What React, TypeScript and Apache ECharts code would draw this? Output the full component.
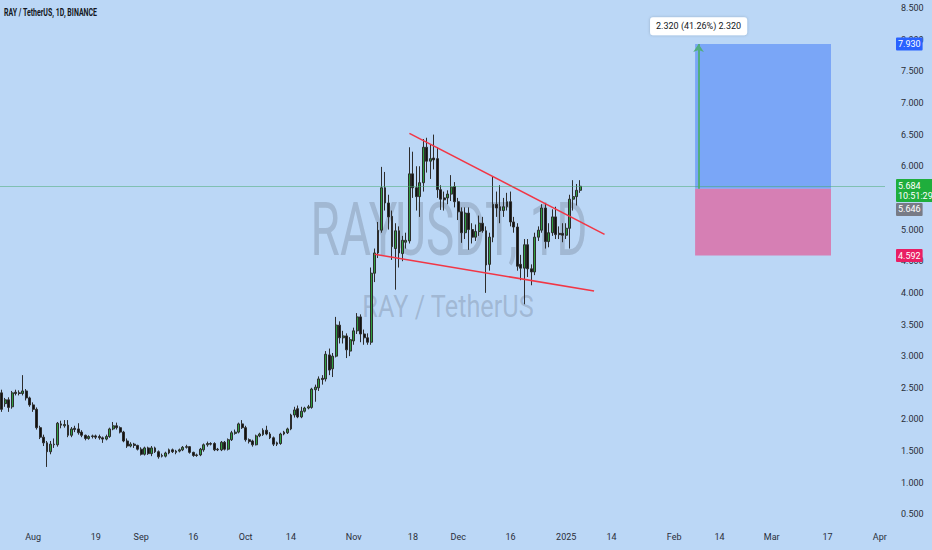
import React, { useEffect, useRef } from 'react';
import * as echarts from 'echarts';

const startDate = '2024-07-23';
const endDate = '2025-04-02';

// [open, close, low, high]
const candles: number[][] = [
  [2.42, 2.16, 2.12, 2.47], [2.25, 2.31, 2.20, 2.34], [2.31, 2.19, 2.12, 2.35], [2.20, 2.42, 2.17, 2.45],
  [2.43, 2.41, 2.38, 2.47], [2.42, 2.41, 2.38, 2.46], [2.41, 2.45, 2.38, 2.70], [2.45, 2.34, 2.30, 2.48],
  [2.34, 2.23, 2.20, 2.36], [2.23, 2.16, 2.12, 2.27], [2.16, 1.87, 1.84, 2.19], [1.87, 1.72, 1.69, 1.90],
  [1.72, 1.63, 1.58, 1.76], [1.63, 1.49, 1.25, 1.66], [1.49, 1.61, 1.45, 1.66], [1.60, 1.61, 1.55, 1.70],
  [1.60, 1.94, 1.57, 1.96], [1.93, 1.91, 1.86, 1.98], [1.90, 1.92, 1.87, 1.99], [1.91, 1.75, 1.72, 1.99],
  [1.75, 1.85, 1.72, 1.88], [1.86, 1.84, 1.80, 1.90], [1.85, 1.79, 1.76, 1.94], [1.80, 1.75, 1.72, 1.83],
  [1.75, 1.70, 1.67, 1.76], [1.70, 1.73, 1.68, 1.75], [1.73, 1.74, 1.70, 1.76], [1.74, 1.72, 1.69, 1.76],
  [1.73, 1.71, 1.68, 1.76], [1.71, 1.69, 1.63, 1.73], [1.69, 1.73, 1.67, 1.76], [1.73, 1.85, 1.71, 1.87],
  [1.85, 1.90, 1.83, 1.96], [1.90, 1.87, 1.84, 1.95], [1.87, 1.80, 1.78, 1.89], [1.80, 1.66, 1.64, 1.82],
  [1.66, 1.58, 1.55, 1.70], [1.58, 1.61, 1.56, 1.64], [1.61, 1.59, 1.55, 1.63], [1.59, 1.53, 1.51, 1.60],
  [1.53, 1.45, 1.43, 1.56], [1.45, 1.55, 1.43, 1.57], [1.55, 1.46, 1.44, 1.57], [1.46, 1.55, 1.42, 1.58],
  [1.55, 1.49, 1.47, 1.57], [1.49, 1.41, 1.38, 1.51], [1.43, 1.42, 1.40, 1.46], [1.42, 1.47, 1.40, 1.49],
  [1.47, 1.52, 1.45, 1.54], [1.52, 1.49, 1.47, 1.54], [1.48, 1.50, 1.45, 1.52], [1.50, 1.52, 1.48, 1.54],
  [1.52, 1.56, 1.50, 1.58], [1.56, 1.57, 1.54, 1.60], [1.57, 1.48, 1.46, 1.58], [1.48, 1.43, 1.41, 1.49],
  [1.44, 1.43, 1.41, 1.46], [1.44, 1.53, 1.42, 1.55], [1.52, 1.60, 1.49, 1.62], [1.60, 1.62, 1.57, 1.65],
  [1.62, 1.61, 1.59, 1.64], [1.62, 1.52, 1.50, 1.64], [1.53, 1.52, 1.50, 1.55], [1.52, 1.64, 1.50, 1.66],
  [1.64, 1.53, 1.51, 1.66], [1.53, 1.68, 1.51, 1.70], [1.68, 1.79, 1.66, 1.82], [1.78, 1.80, 1.76, 1.84],
  [1.80, 1.93, 1.78, 1.95], [1.93, 1.87, 1.85, 1.99], [1.87, 1.68, 1.65, 1.90], [1.68, 1.65, 1.62, 1.70],
  [1.66, 1.60, 1.57, 1.68], [1.60, 1.74, 1.59, 1.76], [1.74, 1.77, 1.72, 1.79], [1.76, 1.83, 1.74, 1.86],
  [1.83, 1.77, 1.75, 1.90], [1.77, 1.71, 1.69, 1.80], [1.71, 1.61, 1.58, 1.73], [1.63, 1.61, 1.58, 1.65],
  [1.62, 1.77, 1.60, 1.79], [1.77, 1.80, 1.75, 1.82], [1.79, 1.85, 1.77, 1.87], [1.85, 2.07, 1.83, 2.09],
  [2.07, 2.15, 2.03, 2.20], [2.17, 2.04, 2.02, 2.22], [2.04, 2.13, 2.02, 2.20], [2.13, 2.18, 2.11, 2.20],
  [2.18, 2.20, 2.16, 2.23], [2.19, 2.48, 2.17, 2.50], [2.47, 2.51, 2.28, 2.55], [2.50, 2.64, 2.45, 2.68],
  [2.65, 2.63, 2.55, 2.70], [2.64, 3.03, 2.60, 3.08], [3.02, 2.78, 2.70, 3.12], [2.80, 3.00, 2.67, 3.05],
  [3.00, 3.49, 2.98, 3.62], [3.49, 3.29, 3.20, 3.55], [3.29, 3.32, 3.20, 3.40], [3.32, 3.10, 2.97, 3.36],
  [3.08, 3.26, 3.00, 3.30], [3.24, 3.40, 3.18, 3.45], [3.40, 3.62, 3.35, 3.68], [3.62, 3.35, 3.22, 3.66],
  [3.35, 3.29, 3.18, 3.42], [3.29, 3.22, 3.18, 3.36], [3.22, 4.31, 3.18, 4.40], [4.31, 4.63, 4.17, 4.70],
  [4.63, 4.99, 4.55, 5.12], [4.99, 5.66, 4.95, 5.99], [5.66, 5.42, 5.30, 5.91], [5.42, 5.20, 5.00, 5.55],
  [5.21, 4.73, 4.52, 5.30], [4.70, 4.98, 4.05, 5.10], [4.98, 4.63, 4.40, 5.05], [4.62, 4.83, 4.50, 4.90],
  [4.80, 4.83, 4.70, 4.95], [4.82, 5.88, 4.78, 6.30], [5.88, 5.66, 5.50, 6.23], [5.66, 5.52, 5.30, 6.00],
  [5.52, 5.74, 5.20, 6.00], [5.74, 6.30, 5.60, 6.43], [6.30, 6.08, 5.90, 6.45], [6.08, 6.12, 5.80, 6.35],
  [6.13, 6.10, 5.95, 6.50], [6.12, 5.63, 5.50, 6.30], [5.63, 5.48, 5.31, 5.70], [5.50, 5.47, 5.30, 5.60],
  [5.50, 5.56, 5.40, 5.62], [5.56, 5.67, 5.45, 5.86], [5.68, 5.44, 5.35, 5.75], [5.44, 5.28, 5.15, 5.50],
  [5.28, 4.95, 4.79, 5.35], [4.95, 5.26, 4.85, 5.35], [5.26, 5.00, 4.68, 5.35], [5.00, 4.88, 4.78, 5.10],
  [4.88, 4.97, 4.82, 5.08], [4.97, 5.10, 4.90, 5.22], [5.10, 4.98, 4.95, 5.20], [4.98, 4.44, 4.00, 5.05],
  [4.45, 4.88, 4.35, 4.95], [4.88, 5.40, 4.80, 5.83], [5.40, 5.34, 5.20, 5.60], [5.36, 5.30, 5.10, 5.70],
  [5.30, 5.36, 5.20, 5.50], [5.36, 5.44, 5.30, 5.58], [5.44, 5.12, 5.05, 5.60], [5.12, 5.04, 4.95, 5.20],
  [5.04, 4.42, 4.35, 5.10], [4.45, 4.39, 4.20, 4.60], [4.39, 4.76, 3.82, 4.85], [4.76, 4.38, 4.25, 4.85],
  [4.38, 4.33, 4.12, 4.45], [4.33, 4.88, 4.28, 4.95], [4.88, 4.99, 4.82, 5.05], [4.99, 5.34, 4.95, 5.40],
  [5.34, 4.81, 4.70, 5.42], [4.81, 4.95, 4.72, 5.10], [4.95, 5.20, 4.90, 5.32], [5.20, 4.92, 4.85, 5.36],
  [4.94, 4.92, 4.85, 5.05], [4.94, 4.91, 4.80, 5.10], [4.91, 5.02, 4.85, 5.10], [5.02, 5.48, 4.70, 5.55],
  [5.48, 5.52, 5.30, 5.78], [5.52, 5.62, 5.38, 5.72], [5.62, 5.684, 5.58, 5.78],
];

const tickDates = ['2024-08-01', '2024-08-19', '2024-09-01', '2024-09-16', '2024-10-01', '2024-10-14',
  '2024-11-01', '2024-11-18', '2024-12-01', '2024-12-16', '2025-01-01', '2025-01-14', '2025-02-01',
  '2025-02-14', '2025-03-01', '2025-03-17', '2025-04-01'];
const tickLabels = ['Aug', '19', 'Sep', '16', 'Oct', '14', 'Nov', '18', 'Dec', '16', '2025', '14', 'Feb',
  '14', 'Mar', '17', 'Apr'];

const priceMin = 0.5;
const priceMax = 8.5;
const priceStep = 0.5;

const lastPrice = 5.684;
const lastTime = '10:51:29';
const entryPrice = 5.646;
const targetPrice = 7.93;
const stopPrice = 4.592;

const upperTrend: [string, number][] = [['2024-11-17', 6.52], ['2025-01-12', 4.925]];
const lowerTrend: [string, number][] = [['2024-11-07', 4.61], ['2025-01-09', 4.028]];
const positionDates = ['2025-02-07', '2025-03-18'];
const arrowDate = '2025-02-08';
const infoLabelPrice = 8.21;
const infoText = '2.320 (41.26%) 2.320';

function buildDates(a: string, b: string): string[] {
  const out: string[] = [];
  const d = new Date(a + 'T00:00:00Z');
  const end = new Date(b + 'T00:00:00Z');
  while (d.getTime() <= end.getTime()) {
    out.push(d.toISOString().slice(0, 10));
    d.setUTCDate(d.getUTCDate() + 1);
  }
  return out;
}

const FONT = "'Liberation Sans Narrow', Roboto, sans-serif";

export default function App() {
  const ref = useRef<HTMLDivElement>(null);
  useEffect(() => {
    if (!ref.current) return;
    const chart = echarts.init(ref.current, null, { renderer: 'svg' });
    const dates = buildDates(startDate, endDate);
    const labelMap: Record<string, string> = {};
    tickDates.forEach((d, i) => { labelMap[d] = tickLabels[i]; });

    const tag = (bg: string) => ({
      show: true,
      position: 'end',
      distance: 11,
      color: '#ffffff',
      fontSize: 9,
      fontFamily: FONT,
      backgroundColor: bg,
      padding: [2, 2, 1, 2],
      borderRadius: 1,
      lineHeight: 10,
    });
    const hidden = { color: 'transparent', width: 0 };
    const red = { color: '#f23645', width: 1.5, type: 'solid' };

    chart.setOption({
      animation: false,
      backgroundColor: '#bbd7f6',
      grid: { left: 0, right: 47, top: 8, bottom: 35.6 },
      xAxis: {
        type: 'category',
        data: dates,
        boundaryGap: true,
        axisLine: { show: false },
        axisTick: { show: false },
        splitLine: { show: false },
        axisLabel: {
          interval: (_i: number, v: string) => v in labelMap,
          formatter: (v: string) => labelMap[v] || '',
          color: '#2a2e39',
          fontSize: 9,
          margin: 18,
          fontFamily: FONT,
        },
      },
      yAxis: {
        type: 'value',
        position: 'right',
        min: priceMin,
        max: priceMax,
        interval: priceStep,
        axisLine: { show: false },
        axisTick: { show: false },
        splitLine: { show: false },
        axisLabel: {
          formatter: (v: number) => v.toFixed(3),
          color: '#2a2e39',
          fontSize: 9,
          margin: 16,
          fontFamily: FONT,
        },
      },
      graphic: [
        {
          type: 'text', x: 4, y: 8, scaleX: 0.7, z: 10,
          style: { text: 'RAY / TetherUS, 1D, BINANCE', fill: '#131722', fontSize: 10, fontWeight: 'bold', fontFamily: 'Roboto', textVerticalAlign: 'top' },
        },
        {
          type: 'text', x: 449, y: 229, scaleX: 0.635, z: 0,
          style: { text: 'RAYUSDT, 1D', fill: 'rgba(105,118,138,0.32)', fontSize: 75, fontFamily: 'Roboto', textAlign: 'center', textVerticalAlign: 'middle' },
        },
        {
          type: 'text', x: 448, y: 306, scaleX: 0.79, z: 0,
          style: { text: 'RAY / TetherUS', fill: 'rgba(105,118,138,0.32)', fontSize: 32, fontFamily: 'Roboto', textAlign: 'center', textVerticalAlign: 'middle' },
        },
      ],
      series: [
        {
          type: 'candlestick',
          data: candles,
          barWidth: '68%',
          clip: false,
          z: 3,
          itemStyle: {
            color: '#2e9e41',
            color0: '#111111',
            borderColor: '#2d2d2d',
            borderColor0: '#2d2d2d',
            borderWidth: 1,
          },
          markArea: {
            silent: true,
            data: [
              [
                { coord: [positionDates[0], targetPrice], itemStyle: { color: '#7aa6f7', opacity: 1 } },
                { coord: [positionDates[1], entryPrice] },
              ],
              [
                { coord: [positionDates[0], entryPrice], itemStyle: { color: '#d67fb4', opacity: 1 } },
                { coord: [positionDates[1], stopPrice] },
              ],
            ],
          },
          markLine: {
            silent: true,
            symbol: ['none', 'none'],
            label: { show: false },
            data: [
              [
                { coord: upperTrend[0], lineStyle: red, label: { show: false } },
                { coord: upperTrend[1], lineStyle: red },
              ],
              [
                { coord: lowerTrend[0], lineStyle: red, label: { show: false } },
                { coord: lowerTrend[1], lineStyle: red },
              ],
              [
                { coord: [arrowDate, entryPrice], symbol: 'none', lineStyle: { color: '#52ad80', width: 2, type: 'solid' }, label: { show: false } },
                { coord: [arrowDate, targetPrice], symbol: 'arrow', symbolSize: 8, lineStyle: { color: '#52ad80', width: 2, type: 'solid' } },
              ],
              {
                yAxis: lastPrice,
                lineStyle: { color: 'rgba(70,170,110,0.5)', width: 1, type: 'solid' },
                label: { ...tag('#1fae3c'), formatter: lastPrice.toFixed(3) + '\n' + lastTime, offset: [0, 4] },
              },
              {
                yAxis: targetPrice,
                lineStyle: hidden,
                label: { ...tag('#2962ff'), formatter: targetPrice.toFixed(3) },
              },
              {
                yAxis: entryPrice,
                lineStyle: hidden,
                label: { ...tag('#787b86'), formatter: entryPrice.toFixed(3), offset: [0, 21] },
              },
              {
                yAxis: stopPrice,
                lineStyle: hidden,
                label: { ...tag('#e91e63'), formatter: stopPrice.toFixed(3) },
              },
            ],
          },
          markPoint: {
            silent: true,
            symbol: 'circle',
            symbolSize: 0,
            data: [
              {
                coord: [arrowDate, infoLabelPrice],
                label: {
                  show: true,
                  position: 'inside',
                  formatter: infoText,
                  color: '#131722',
                  fontSize: 9,
                  fontFamily: FONT,
                  backgroundColor: '#ffffff',
                  padding: [5, 6, 4, 6],
                  borderRadius: 3,
                  shadowBlur: 3,
                  shadowColor: 'rgba(0,0,0,0.2)',
                },
              },
            ],
          },
        },
      ],
    });
    return () => chart.dispose();
  }, []);
  return <div ref={ref} style={{ position: 'absolute', left: 0, top: 0, width: 932, height: 550 }} />;
}
